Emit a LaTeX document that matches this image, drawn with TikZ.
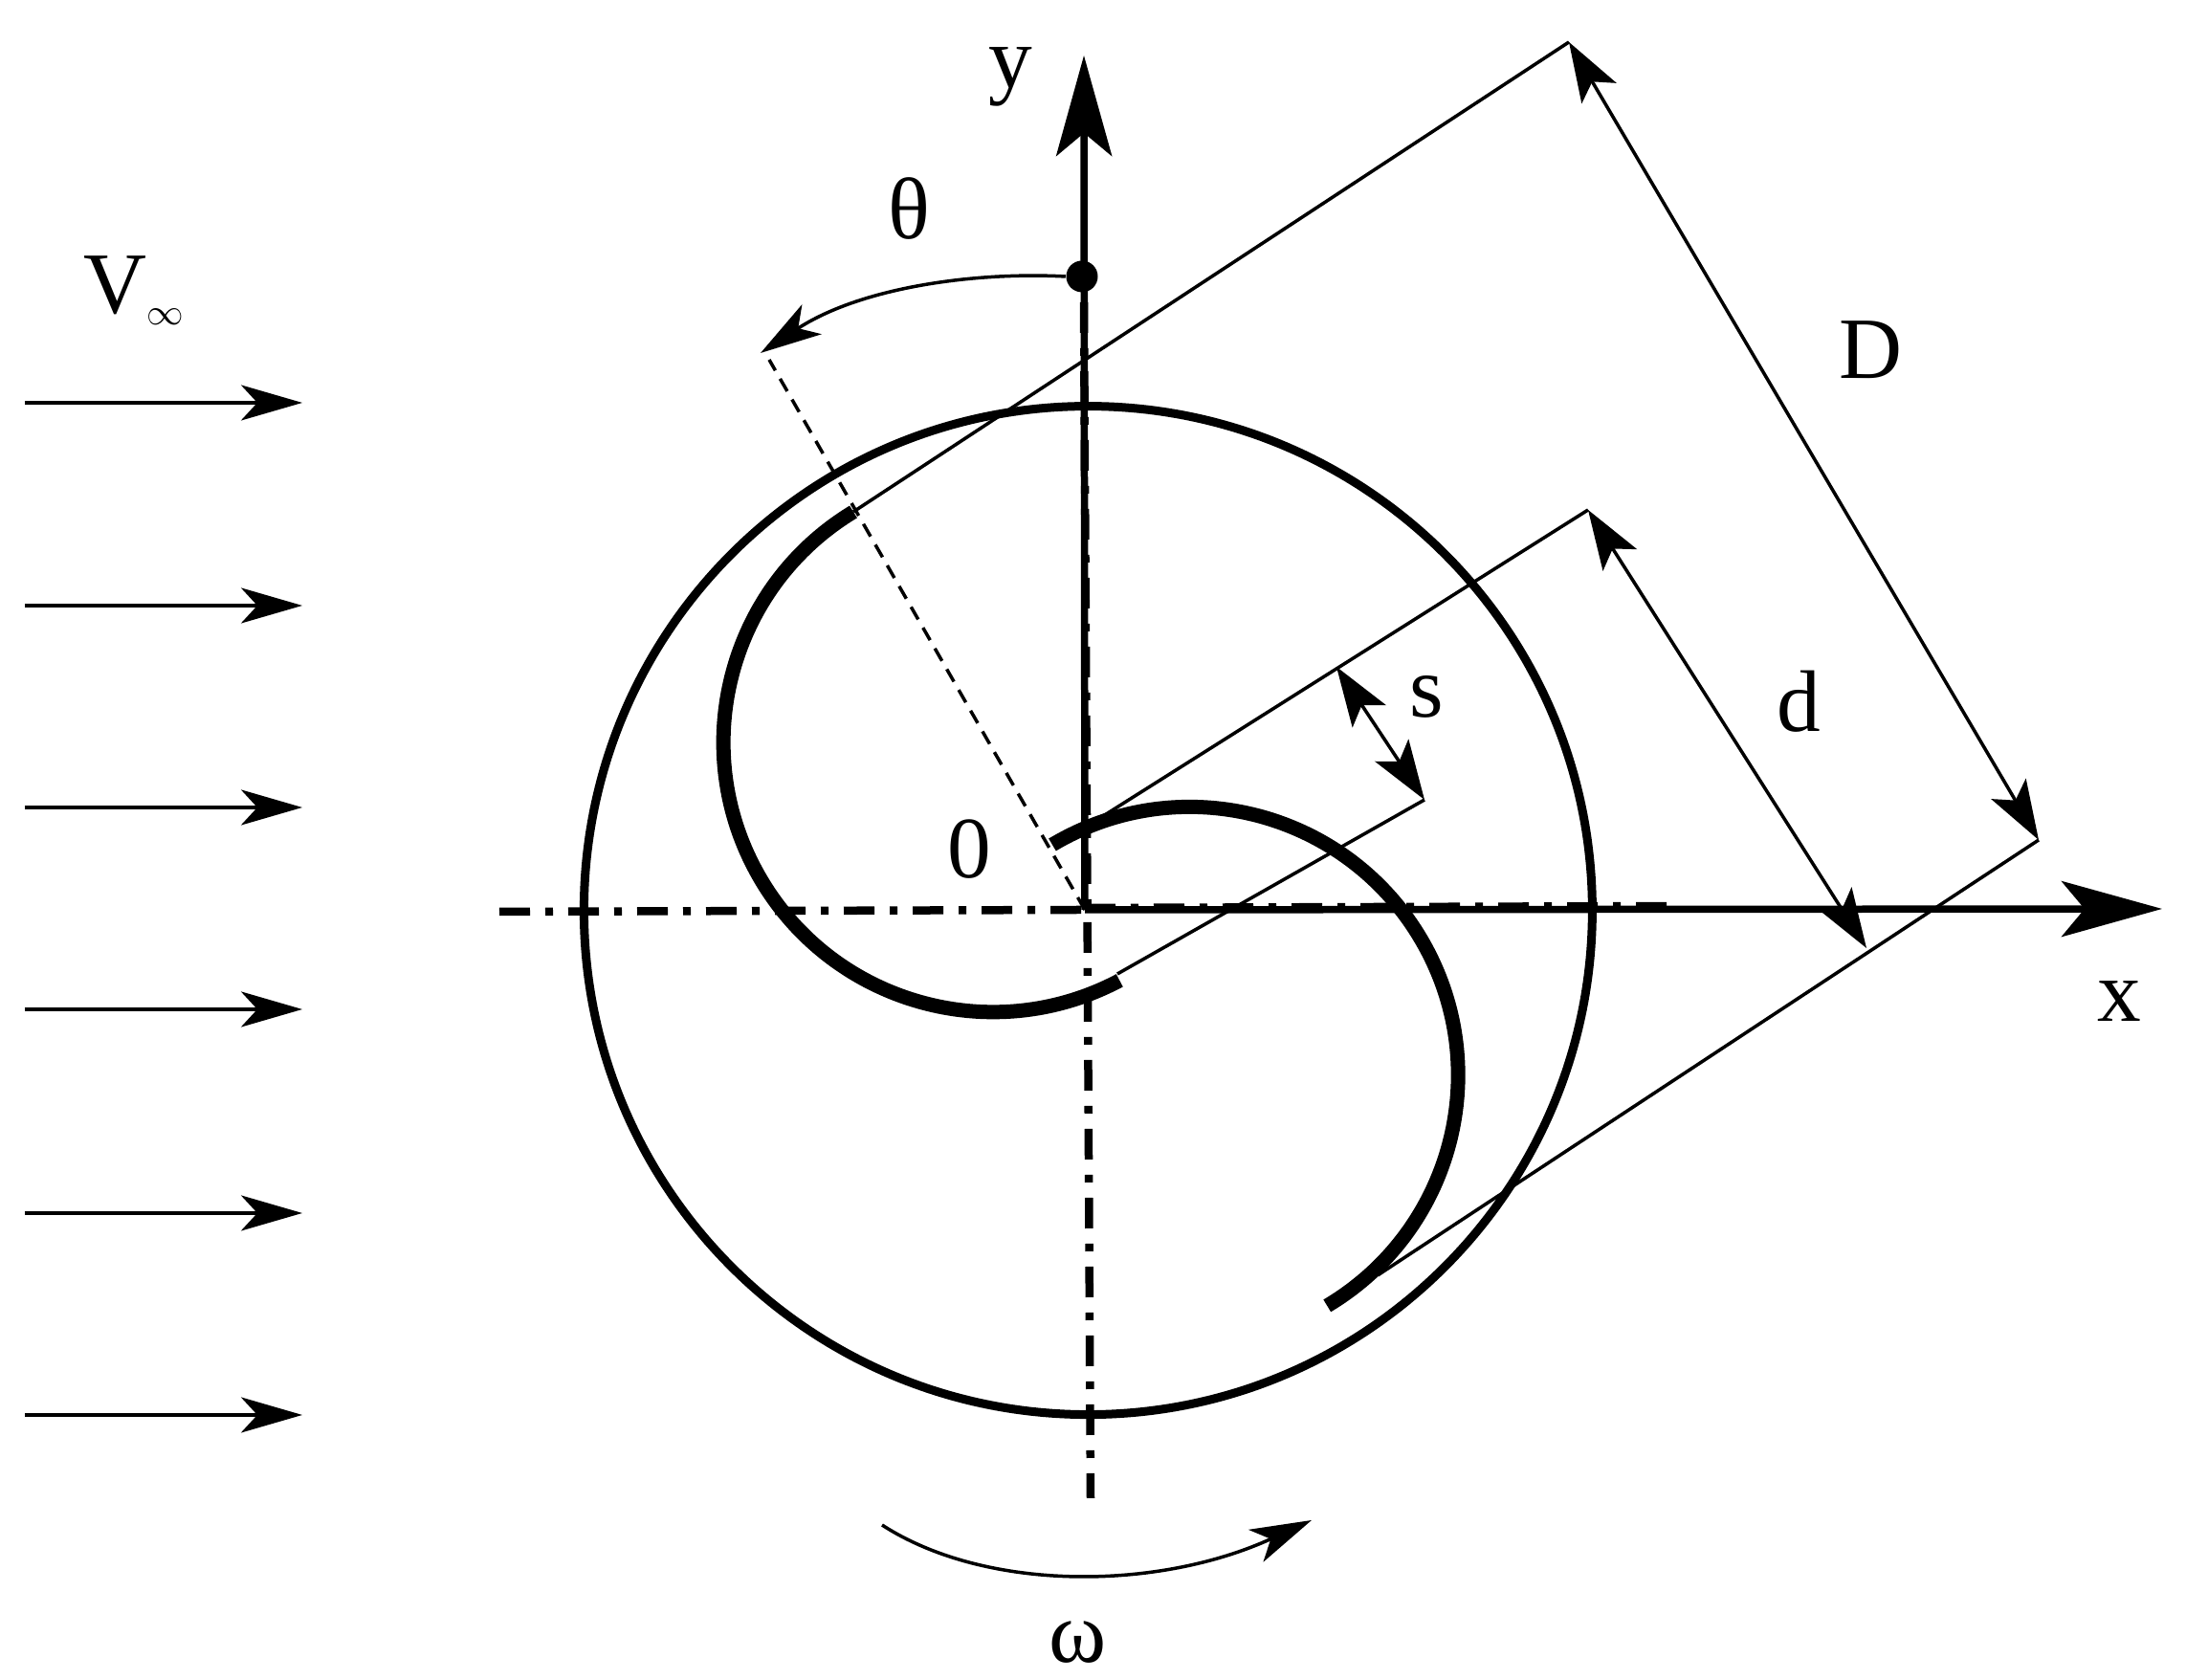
\documentclass[tikz,border=0pt]{standalone}
\usepackage{fontspec}
\setmainfont{Liberation Serif}
\usetikzlibrary{arrows.meta}
\tikzset{
    thin line/.style={line width=0.035cm},
    flow tip/.style={-{Stealth[length=0.64cm,width=0.37cm,inset=0.17cm]}},
    dim tips/.style={{Stealth[length=0.62cm,width=0.42cm,inset=0.14cm]}-{Stealth[length=0.62cm,width=0.42cm,inset=0.14cm]}},
    axis line/.style={line width=0.075cm,-{Stealth[length=1.05cm,width=0.58cm,inset=0.24cm]}},
    center line/.style={line width=0.085cm,dash pattern=on 0.32cm off 0.16cm on 0.08cm off 0.16cm},
    rotor/.style={line width=0.09cm},
    blade/.style={line width=0.15cm},
    label/.style={font=\fontsize{26}{30}\selectfont,anchor=base,inner sep=0pt}
}
\begin{document}
\begin{tikzpicture}
        \useasboundingbox (0,0) rectangle (22.85,17.56);

        % flow
        \draw[thin line,flow tip] (0.26,13.35) -- (3.16,13.35);
        \draw[thin line,flow tip] (0.26,11.23) -- (3.16,11.23);
        \draw[thin line,flow tip] (0.26,9.12) -- (3.16,9.12);
        \draw[thin line,flow tip] (0.26,7.01) -- (3.16,7.01);
        \draw[thin line,flow tip] (0.26,4.88) -- (3.16,4.88);
        \draw[thin line,flow tip] (0.26,2.77) -- (3.16,2.77);

        % rotor and blades
        \draw[rotor] (11.374,8.044) circle (5.27);
        \draw[blade] (8.92,12.21) arc[start angle=121.2,end angle=298,radius=2.818];
        \draw[blade] (11.00,8.73) arc[start angle=120.8,end angle=-59.2,radius=2.805];

        % axes
        \coordinate (origin) at (11.34,8.05);
        \coordinate (ytip) at (11.33,16.98);
        \coordinate (xtip) at (22.60,8.06);
        \draw[center line] (5.22,8.03) -- (origin);
        \draw[center line] (11.33,14.40) -- (11.40,1.90);
        \draw[center line] (11.34,8.07) -- (17.56,8.09);
        \draw[axis line] (origin) -- (ytip);
        \draw[axis line] (origin) -- (xtip);
        \node[circle,fill=black,minimum size=0.33cm,inner sep=0pt] (pivot) at (11.31,14.67) {};

        % angle and rotation
        \coordinate (bladeref) at (8.04,13.80);
        \coordinate (thetatip) at (7.95,13.87);
        \draw[thin line,dash pattern=on 0.15cm off 0.10cm] (origin) -- (bladeref);
        \draw[thin line,flow tip] (pivot.west) .. controls (10.20,14.72) and (9.00,14.56) .. (thetatip);
        \draw[thin line,flow tip] (9.22,1.62) .. controls (10.30,0.92) and (12.10,0.93) .. (13.71,1.67);

        % dimensions
        \coordinate (Dtop) at (16.40,17.12);
        \coordinate (Dlow) at (21.31,8.78);
        \coordinate (dtop) at (16.60,12.23);
        \coordinate (dlow) at (19.51,7.65);
        \coordinate (stop) at (13.97,10.59);
        \coordinate (slow) at (14.89,9.20);
        \draw[thin line] (8.92,12.21) -- (Dtop);
        \draw[thin line] (14.40,4.23) -- (Dlow);
        \draw[thin line] (11.42,8.96) -- (dtop);
        \draw[thin line] (11.68,7.38) -- (slow);
        \draw[thin line,dim tips] (Dtop) -- (Dlow);
        \draw[thin line,dim tips] (dtop) -- (dlow);
        \draw[thin line,dim tips] (stop) -- (slow);

        % labels
        \node[label] (ylabel) at (10.56,16.64) {y};
        \node[label] (thetalabel) at (9.50,15.06) {θ};
        \node[label] (vlabel) at (1.40,14.28) {V\raisebox{-0.12cm}{\fontsize{11}{12}\selectfont$\infty$}};
        \node[label] (Dlabel) at (19.55,13.60) {D};
        \node[label] (dlabel) at (18.80,9.91) {d};
        \node[label] (slabel) at (14.91,10.06) {s};
        \node[label] (zerolabel) at (10.13,8.38) {0};
        \node[label] (xlabel) at (22.15,6.88) {x};
        \node[label] (omegalabel) at (11.27,0.18) {ω};
\end{tikzpicture}
\end{document}
